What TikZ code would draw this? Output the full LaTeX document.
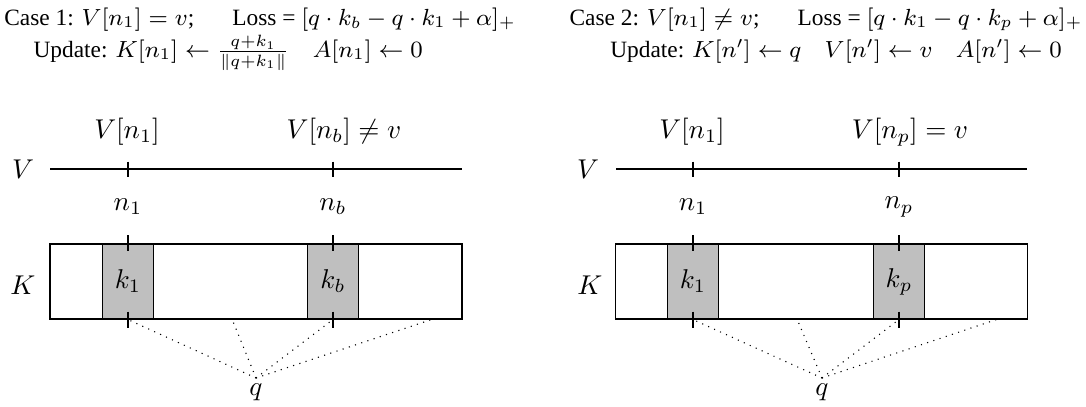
\RequirePackage{fix-cm}
\documentclass[tikz,border=0pt]{standalone}
\usepackage[no-math]{fontspec}
\setmainfont{Liberation Serif}
\newcommand{\ttlfont}{\fontsize{8.6}{11}\selectfont}
\begin{document}
\begin{tikzpicture}[x=0.368pt,y=-0.368pt,
  vline/.style={line width=0.8pt},
  tick/.style={line width=0.4pt},
  kbox/.style={draw,line width=0.4pt,minimum width=151.6pt,minimum height=27.6pt,inner sep=0pt},
  cell/.style={draw,line width=0.4pt,fill=gray!50,minimum width=18.8pt,minimum height=27.6pt,inner sep=0pt},
  lbl/.style={inner sep=1pt},
  title/.style={inner sep=0pt,font=\ttlfont},
  link/.style={dotted,line width=0.4pt}]
\useasboundingbox (0,0) rectangle (1086,406);
% titles
\node[title,anchor=base] (T1a) at (260,25) {Case 1: $V[n_1]=v$;\hspace{14pt}Loss = $[q\cdot k_b - q\cdot k_1+\alpha]_+$};
\node[title,anchor=base west] (T1b) at (33,57) {Update: $K[n_1]\leftarrow \frac{q+k_1}{\|q+k_1\|}$\quad $A[n_1]\leftarrow 0$};
\node[title,anchor=base] (T2a) at (826,25) {Case 2: $V[n_1]\neq v$;\hspace{14pt}Loss = $[q\cdot k_1 - q\cdot k_p+\alpha]_+$};
\node[title,anchor=base] (T2b) at (836,57) {Update: $K[n']\leftarrow q$\quad $V[n']\leftarrow v$\quad $A[n']\leftarrow 0$};
% ---------- left panel ----------
\node[lbl] (LV) at (23,169) {$V$};
\node[lbl] (LKl) at (23,285) {$K$};
\coordinate (LVa) at (50,169);
\coordinate (LVb) at (462,169);
\draw[vline] (LVa) -- (LVb);
\coordinate (LVt1) at (128,169);
\coordinate (LVt2) at (333,169);
\draw[tick] (LVt1) ++(0,-7.5) -- ++(0,15);
\draw[tick] (LVt2) ++(0,-7.5) -- ++(0,15);
\node[lbl] (LVn1) at (127,132) {$V[n_1]$};
\node[lbl] (LVnb) at (344,132) {$V[n_b]\neq v$};
\node[lbl] (Ln1) at (128,207) {$n_1$};
\node[lbl] (Lnb) at (333,207) {$n_b$};
\node[kbox] (LK) at (256,281.5) {};
\node[cell] (Lk1) at (128,281.5) {$k_1$};
\node[cell] (Lkb) at (333,281.5) {$k_b$};
\foreach \c in {Lk1,Lkb}{
  \draw[tick] (\c.north) ++(0,-8) -- ++(0,16);
  \draw[tick] (\c.south) ++(0,-8) -- ++(0,16);
}
\coordinate (Lq) at (256,378);
\node[lbl] (Lqlab) at (256,392) {$q$};
\coordinate (Lm) at (232,319);
\coordinate (Lr) at (433,319);
\draw[link] (Lq) -- (Lk1.south);
\draw[link] (Lq) -- (Lm);
\draw[link] (Lq) -- (Lkb.south);
\draw[link] (Lq) -- (Lr);
% ---------- right panel ----------
\node[lbl] (RV) at (588,169) {$V$};
\node[lbl] (RKl) at (590,285) {$K$};
\coordinate (RVa) at (616,169);
\coordinate (RVb) at (1027,169);
\draw[vline] (RVa) -- (RVb);
\coordinate (RVt1) at (693,169);
\coordinate (RVt2) at (899,169);
\draw[tick] (RVt1) ++(0,-7.5) -- ++(0,15);
\draw[tick] (RVt2) ++(0,-7.5) -- ++(0,15);
\node[lbl] (RVn1) at (692,132) {$V[n_1]$};
\node[lbl] (RVnp) at (910,132) {$V[n_p]=v$};
\node[lbl] (Rn1) at (693,207) {$n_1$};
\node[lbl] (Rnp) at (899,207) {$n_p$};
\node[kbox] (RK) at (821.5,281.5) {};
\node[cell] (Rk1) at (693,281.5) {$k_1$};
\node[cell] (Rkp) at (899,281.5) {$k_p$};
\foreach \c in {Rk1,Rkp}{
  \draw[tick] (\c.north) ++(0,-8) -- ++(0,16);
  \draw[tick] (\c.south) ++(0,-8) -- ++(0,16);
}
\coordinate (Rq) at (822,378);
\node[lbl] (Rqlab) at (822,392) {$q$};
\coordinate (Rm) at (797,319);
\coordinate (Rr) at (998,319);
\draw[link] (Rq) -- (Rk1.south);
\draw[link] (Rq) -- (Rm);
\draw[link] (Rq) -- (Rkp.south);
\draw[link] (Rq) -- (Rr);
\end{tikzpicture}
\end{document}
